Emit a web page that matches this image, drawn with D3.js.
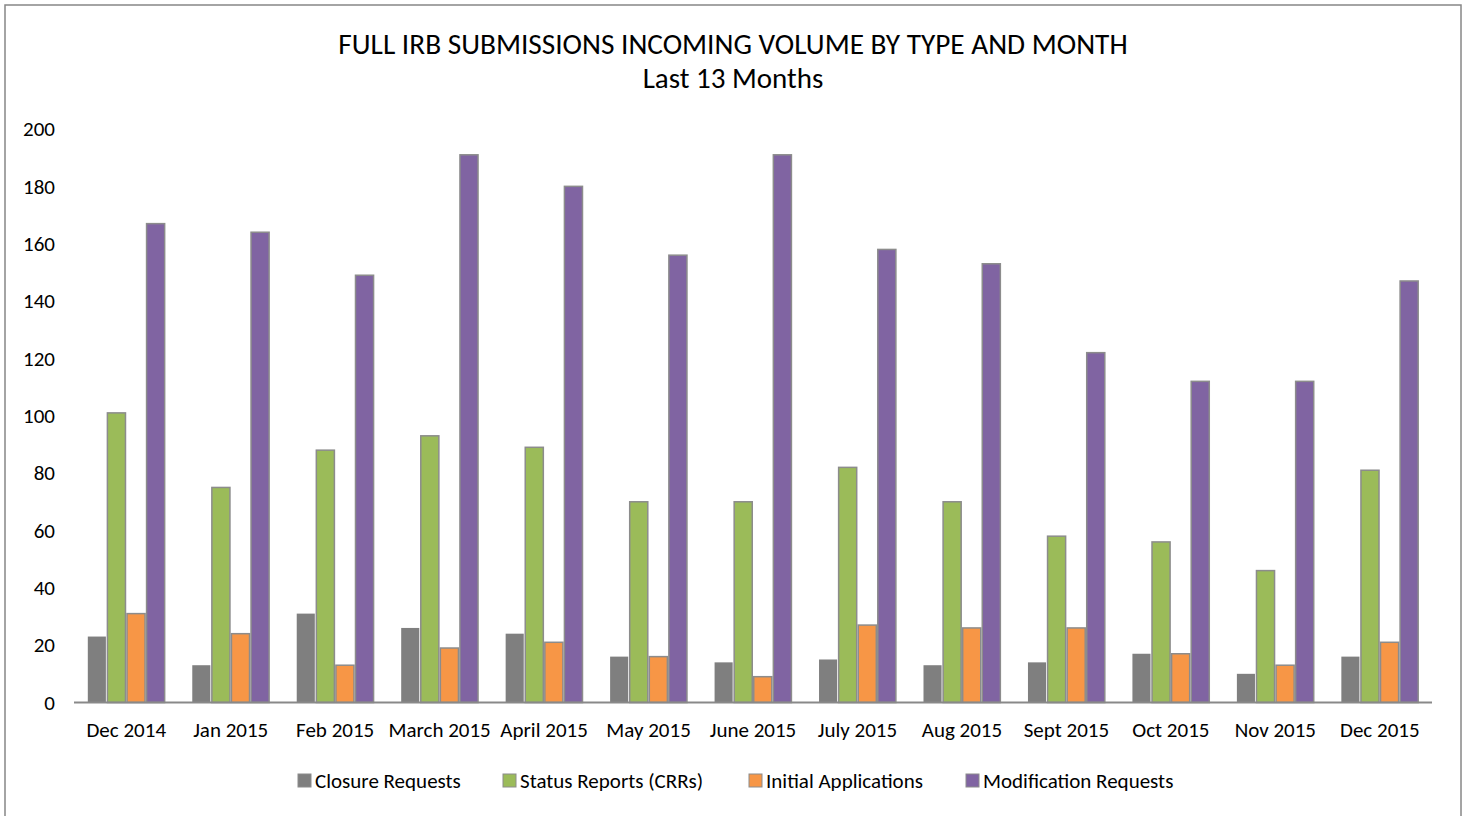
<!DOCTYPE html>
<html>
<head>
<meta charset="utf-8">
<script src="https://cdn.jsdelivr.net/npm/d3@7"></script>
<style>
  html, body { margin: 0; padding: 0; background: #fff; }
  svg { display: block; }
  text { font-family: Carlito, Lato, "Open Sans", sans-serif; fill: #000; }
</style>
</head>
<body>
<svg id="chart" width="1466" height="816"></svg>
<script>
const months = ["Dec 2014","Jan 2015","Feb 2015","March 2015","April 2015","May 2015","June 2015","July 2015","Aug 2015","Sept 2015","Oct 2015","Nov 2015","Dec 2015"];
const seriesNames = ["Closure Requests","Status Reports (CRRs)","Initial Applications","Modification Requests"];
const seriesColors = ["#7f7f7f","#9bbb59","#f79646","#8064a2"];
const closureRequests = [23,13,31,26,24,16,14,15,13,14,17,10,16];
const statusReports = [101,75,88,93,89,70,70,82,70,58,56,46,81];
const initialApplications = [31,24,13,19,21,16,9,27,26,26,17,13,21];
const modificationRequests = [167,164,149,191,180,156,191,158,153,122,112,112,147];
const yTicks = [0,20,40,60,80,100,120,140,160,180,200];
const titleLines = ["FULL IRB SUBMISSIONS INCOMING VOLUME BY TYPE AND MONTH","Last 13 Months"];

const seriesValues = [closureRequests, statusReports, initialApplications, modificationRequests];

const svg = d3.select("#chart");

// outer frame
svg.append("rect").attr("x",5).attr("y",5).attr("width",1456).attr("height",830)
  .attr("fill","#fff").attr("stroke","#878787").attr("stroke-width",1.5);

// title
svg.append("text").attr("x",733).attr("y",54).attr("text-anchor","middle")
  .style("font-size","29.3px").text(titleLines[0]);
svg.append("text").attr("x",733).attr("y",88).attr("text-anchor","middle")
  .style("font-size","29px").text(titleLines[1]);

const pLeft = 74, pRight = 1432, pTop = 129, pBottom = 702.5;

const x0 = d3.scaleBand().domain(months).range([pLeft,pRight]).paddingInner(0.25).paddingOuter(0.125);
const x1 = d3.scaleBand().domain(seriesNames).range([0,x0.bandwidth()]).padding(0);
const y = d3.scaleLinear().domain([0,200]).range([pBottom,pTop]);

// y axis labels
const yAxis = d3.axisLeft(y).tickValues(yTicks).tickSize(0).tickPadding(0);
const gy = svg.append("g").attr("transform","translate(55,0)").call(yAxis);
gy.select(".domain").remove();
gy.selectAll("text").style("font-size","21px").style("font-family","Carlito, Lato, sans-serif").attr("fill","#000");

// bars
const groups = svg.append("g").selectAll("g").data(months).join("g")
  .attr("transform", d => `translate(${x0(d)},0)`);
groups.selectAll("rect").data((m,i) => seriesNames.map((s,j) => ({s, v: seriesValues[j][i], c: seriesColors[j]})))
  .join("rect")
  .attr("x", d => x1(d.s) + 0.75)
  .attr("width", x1.bandwidth() - 1.5)
  .attr("y", d => y(d.v))
  .attr("height", d => pBottom - y(d.v))
  .attr("fill", d => d.c)
  .attr("stroke", d => d.s === seriesNames[0] ? "none" : "#8c8c8c")
  .attr("stroke-width", 1.5);

// x axis
const xAxis = d3.axisBottom(x0).tickSize(0).tickPadding(0);
const gx = svg.append("g").attr("transform",`translate(0,${pBottom})`).call(xAxis);
gx.select(".domain").attr("stroke","#898989").attr("stroke-width",2).attr("d",`M${pLeft},0H${pRight}`);
gx.selectAll("text").attr("dy",0).attr("y",34.5).style("font-size","21px").style("font-family","Carlito, Lato, sans-serif").attr("fill","#000");

// legend
const legendX = [298, 503, 749, 966];
const lg = svg.append("g").selectAll("g").data(seriesNames).join("g")
  .attr("transform",(d,i)=>`translate(${legendX[i]},774)`);
lg.append("rect").attr("width",13).attr("height",13).attr("fill",(d,i)=>seriesColors[i])
  .attr("stroke","#8c8c8c").attr("stroke-width",1);
lg.append("text").attr("x",17).attr("y",13.5).style("font-size","21px").text(d=>d);
</script>
</body>
</html>
